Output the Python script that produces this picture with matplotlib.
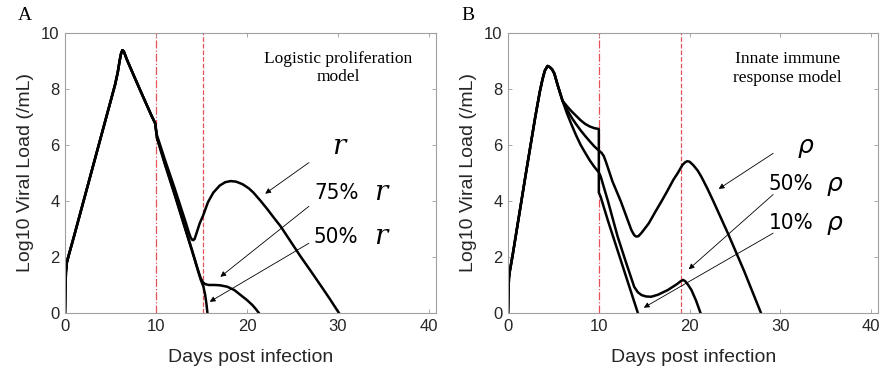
import numpy as np
import matplotlib
matplotlib.use("Agg")
import matplotlib.pyplot as plt

plt.rcParams['font.family'] = ['Liberation Sans', 'DejaVu Sans']

# ---- panel A: logistic proliferation model ----
a_x_pre = [0, 0.04, 0.1, 0.2, 0.4, 1, 2, 3, 4, 5, 5.5, 5.8, 6.0, 6.15, 6.3, 6.45, 6.6, 6.8, 7.5, 8.5, 9.5, 9.9]
a_y_pre = [0, 0.8, 1.45, 1.8, 2.05, 2.75, 3.95, 5.15, 6.35, 7.55, 8.15, 8.6, 9.0, 9.25, 9.38, 9.35, 9.22, 9.05, 8.52, 7.78, 7.05, 6.78]

a_x_r = [10.1, 11, 12, 12.8, 13.3, 13.6, 13.8, 13.95, 14.1, 14.25, 14.5, 14.8, 15.2, 15.7, 16.3, 17.0,
         17.6, 18.2, 18.8, 19.5, 20.2, 20.7, 21.5, 22.2, 23.0, 23.7, 24.8, 25.9, 27.0, 28.1, 29.1, 30.1]
a_y_r = [6.35, 5.45, 4.5, 3.7, 3.2, 2.88, 2.7, 2.62, 2.6, 2.65, 2.9, 3.2, 3.5, 3.95, 4.3, 4.55,
         4.67, 4.71, 4.69, 4.6, 4.45, 4.3, 4.0, 3.72, 3.38, 3.09, 2.55, 2.01, 1.5, 0.98, 0.5, 0]

a_x_r75 = [10.1, 11, 12, 13, 14, 14.6, 14.9, 15.15, 15.4, 15.8, 16.4, 17.0, 17.8, 18.6, 19.3, 20.0, 20.6, 21.0, 21.3]
a_y_r75 = [6.28, 5.32, 4.3, 3.25, 2.2, 1.55, 1.25, 1.1, 1.03, 1.0, 1.0, 0.99, 0.94, 0.82, 0.64, 0.46, 0.28, 0.13, 0]

a_x_r50 = [10.1, 11, 12, 13, 14, 14.6, 14.9, 15.2, 15.4, 15.55, 15.65]
a_y_r50 = [6.25, 5.28, 4.27, 3.22, 2.17, 1.52, 1.2, 0.95, 0.65, 0.3, 0]

a_vlines = [10, 15.2]

# ---- panel B: innate immune response model ----
b_x_pre = [0, 0.04, 0.1, 0.2, 0.5, 1, 2, 3, 3.5, 3.8, 4.05, 4.35, 4.6, 4.85, 5.1, 5.5, 6.0]
b_y_pre = [0, 0.7, 1.25, 1.5, 2.05, 3.05, 5.05, 7.0, 7.9, 8.35, 8.65, 8.82, 8.78, 8.7, 8.55, 8.1, 7.58]

b_x_rho = [6.5, 7.0, 7.5, 8.0, 8.5, 9.0, 9.5, 10.0, 10.3, 10.55, 10.8, 11.5, 12.44, 13.2, 13.6, 13.9,
           14.1, 14.35, 14.7, 15.5, 16.2, 16.87, 17.5, 18.2, 18.7, 19.2, 19.5, 19.75, 20.0, 20.4,
           20.9, 21.3, 21.9, 22.6, 24.25, 26.0, 27.86]
b_y_rho = [7.26, 6.98, 6.74, 6.52, 6.32, 6.13, 5.95, 5.8, 5.72, 5.6, 5.38, 4.7, 3.97, 3.3, 2.95, 2.78,
           2.73, 2.74, 2.86, 3.2, 3.6, 3.97, 4.33, 4.75, 5.0, 5.28, 5.38, 5.42, 5.4, 5.28,
           5.08, 4.86, 4.48, 4.0, 2.82, 1.5, 0]

b_x_rho50 = [6.5, 7.0, 7.5, 8.0, 8.5, 9.0, 9.5, 10.0, 10.2, 11, 12.07, 13.0, 13.9, 14.3, 14.7, 15.2,
             15.76, 16.5, 17.6, 18.6, 19.0, 19.27, 19.5, 19.8, 20.2, 20.7, 21.2]
b_y_rho50 = [7.12, 6.72, 6.34, 6.0, 5.72, 5.45, 5.22, 5.02, 4.88, 4.0, 2.73, 1.8, 0.93, 0.74, 0.64, 0.59,
             0.58, 0.65, 0.82, 1.03, 1.13, 1.18, 1.14, 1.02, 0.82, 0.45, 0]

b_x_rho10 = [6.5, 7.0, 7.5, 8.0, 8.5, 9.0, 9.5, 10.0, 10.0, 10.2, 11, 12, 13, 14.3]
b_y_rho10 = [7.38, 7.2, 7.04, 6.88, 6.75, 6.66, 6.6, 6.57, 4.3, 4.15, 3.3, 2.3, 1.3, 0]

b_vlines = [10, 19.1]

RED = '#e8505a'
SERIF = ['Liberation Serif', 'DejaVu Serif']
NARROW = ['DejaVu Sans']


def style_ax(ax):
    ax.set_xlim(0, 40.8)
    ax.set_ylim(0, 10)
    ax.set_xticks([0, 10, 20, 30, 40])
    ax.set_yticks([0, 2, 4, 6, 8, 10])
    ax.tick_params(direction='in', length=3, width=0.6, top=True, right=True,
                   labelsize=12, colors='#999999', labelcolor='#262626', pad=4)
    for s in ax.spines.values():
        s.set_color('#a0a0a0')
        s.set_linewidth(0.8)
    ax.set_xlabel('Days post infection', fontsize=14, color='#262626', labelpad=11)
    ax.set_ylabel('Log10 Viral Load (/mL)', fontsize=14, color='#262626', labelpad=5)


def arrow(ax, start, end):
    ax.annotate('', xy=end, xytext=start,
                arrowprops=dict(arrowstyle='-|>', color='k', lw=0.6,
                                mutation_scale=8, shrinkA=0, shrinkB=0))


fig = plt.figure(figsize=(8.82, 3.68), dpi=100)
axA = fig.add_axes([0.0737, 0.1495, 0.421, 0.761])
axB = fig.add_axes([0.576, 0.1495, 0.42, 0.761])

# panel A
for v, ls in zip(a_vlines, ['-.', '--']):
    axA.axvline(v, color=RED, ls=ls, lw=0.9)
for xs, ys in [(a_x_r, a_y_r), (a_x_r75, a_y_r75), (a_x_r50, a_y_r50)]:
    axA.plot(a_x_pre + xs, a_y_pre + ys, color='k', lw=1.8, solid_joinstyle='round')
style_ax(axA)
axA.text(30.0, 8.75, 'Logistic proliferation\nmodel', ha='center', va='center',
         family=SERIF, fontsize=12.5, linespacing=1.2)
axA.text(30.1, 5.96, 'r', ha='center', va='center', family='DejaVu Serif',
         style='italic', fontsize=20)
for y, lab in [(4.29, '75%'), (2.73, '50%')]:
    axA.text(29.8, y, lab, ha='center', va='center', family=NARROW,
             fontstretch='condensed', fontsize=16)
    axA.text(34.7, y, 'r', ha='center', va='center', family='DejaVu Serif',
             style='italic', fontsize=20)
arrow(axA, (26.8, 5.37), (22.0, 4.26))
arrow(axA, (26.8, 3.81), (17.07, 1.29))
arrow(axA, (26.8, 2.49), (15.9, 0.40))

# panel B
for v, ls in zip(b_vlines, ['-.', '--']):
    axB.axvline(v, color=RED, ls=ls, lw=0.9)
for xs, ys in [(b_x_rho, b_y_rho), (b_x_rho50, b_y_rho50), (b_x_rho10, b_y_rho10)]:
    axB.plot(b_x_pre + xs, b_y_pre + ys, color='k', lw=1.8, solid_joinstyle='round')
style_ax(axB)
axB.text(30.8, 8.73, 'Innate immune\nresponse model', ha='center', va='center',
         family=SERIF, fontsize=12.5, linespacing=1.2)
axB.text(32.8, 5.96, 'ρ', ha='center', va='center', family='DejaVu Sans',
         style='italic', fontsize=18)
for y, lab in [(4.62, '50%'), (3.23, '10%')]:
    axB.text(31.2, y, lab, ha='center', va='center', family=NARROW,
             fontstretch='condensed', fontsize=16)
    axB.text(36.0, y, 'ρ', ha='center', va='center', family='DejaVu Sans',
             style='italic', fontsize=18)
arrow(axB, (29.2, 5.7), (23.2, 4.43))
arrow(axB, (29.2, 4.23), (19.9, 1.56))
arrow(axB, (29.2, 2.85), (14.95, 0.19))

fig.text(25 / 882, 1 - 16 / 368, 'A', ha='center', va='center', family=SERIF, fontsize=14)
fig.text(468 / 882, 1 - 16 / 368, 'B', ha='center', va='center', family=SERIF, fontsize=14)

fig.savefig('out.png', dpi=100)
